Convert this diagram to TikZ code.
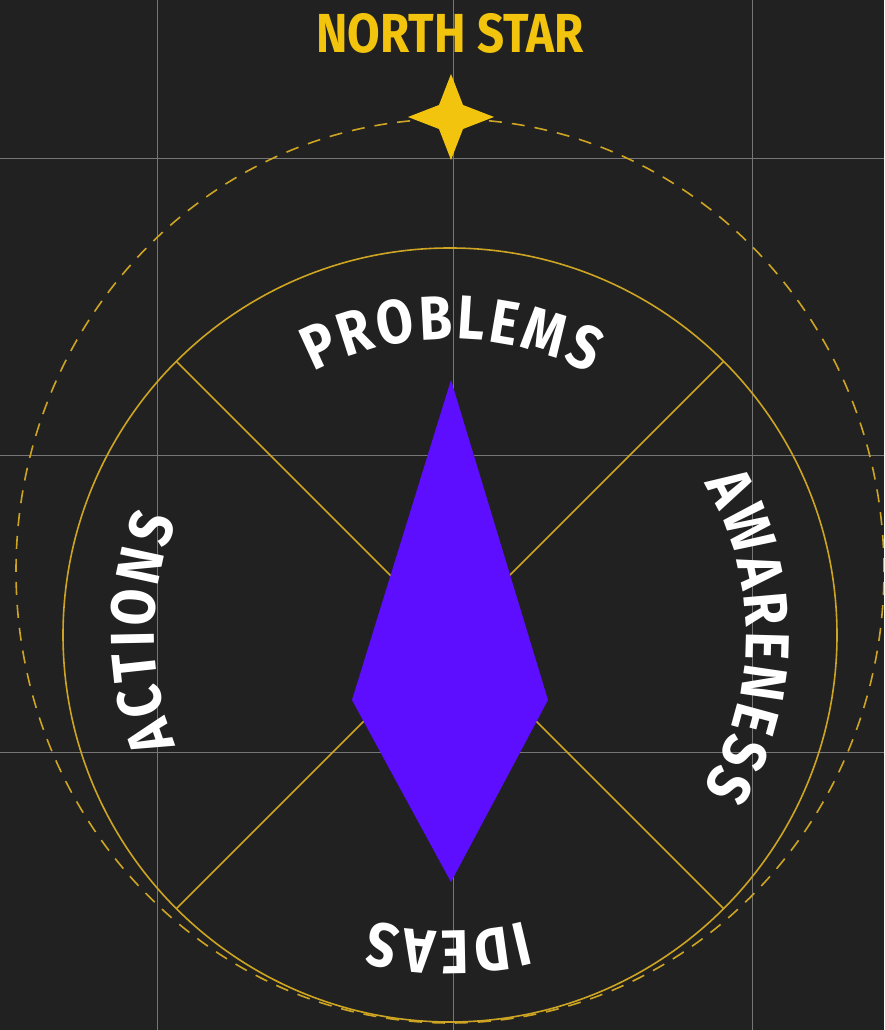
\documentclass[tikz,border=0pt]{standalone}
\usepackage{fontspec}
\usetikzlibrary{calc, decorations.text}
\newfontfamily\titlefont[FakeStretch=0.86]{Fira Sans}
\newfontfamily\ringfont[FakeStretch=0.86]{Fira Sans}
\definecolor{bgGray}{RGB}{33,33,33}
\definecolor{gridGray}{RGB}{118,118,118}
\definecolor{ringGold}{RGB}{205,165,35}
\definecolor{starGold}{RGB}{242,196,14}
\definecolor{needleViolet}{RGB}{94,14,255}

\begin{document}
\begin{tikzpicture}[x=1pt, y=1pt, gridline/.style={gridGray, line width=0.9pt}, ring/.style={ringGold, line width=1.6pt}, ringlabel/.style={decorate, decoration={text along path, text align=center, text color=white, text={|\ringfont\bfseries\fontsize{62}{62}\selectfont\kern3.5pt|#1}}}]
		% Background
		\fill[bgGray] (0,0) rectangle (884,1030);
		\useasboundingbox (0,0) rectangle (884,1030);
		\clip (0,0) rectangle (884,1030);
		% Grid
		\foreach \gx in {157,453,752} \draw[gridline] (\gx,0) -- (\gx,1030);
		\foreach \gy in {278,575,872} \draw[gridline] (0,\gy) -- (884,\gy);
		% Orbit (dashed)
		\draw[ring, dash pattern=on 13pt off 10pt] (450,459) ellipse [x radius=434pt, y radius=452pt];
		% Compass ring
		\coordinate (c) at (450,395);
		\coordinate (ne) at ($(c)+(45:387pt)$);
		\coordinate (nw) at ($(c)+(135:387pt)$);
		\coordinate (sw) at ($(c)+(225:387pt)$);
		\coordinate (se) at ($(c)+(315:387pt)$);
		\draw[ring] (c) circle [radius=387pt];
		\draw[ring] (ne) -- (sw);
		\draw[ring] (nw) -- (se);
		% Needle
		\coordinate (tip) at (451,650);
		\coordinate (tail) at (451,148);
		\fill[needleViolet] (tip) -- (548,330) -- (tail) -- (352,330) -- cycle;
		% North star
		\fill[starGold, shift={(451,913)}] (0,43) -- (12,12) -- (43,0) -- (12,-12) -- (0,-43) -- (-12,-12) -- (-43,0) -- (-12,12) -- cycle;
		\node[starGold, font=\titlefont\bfseries\fontsize{55}{55}\selectfont, anchor=base] (title) at (450,977) {NORTH STAR};
		% Ring labels
		\path[ringlabel=PROBLEMS] ($(c)+(150:296pt)$) arc[start angle=150, end angle=30, radius=296pt];
		\path[ringlabel=AWARENESS] ($(c)+(60:296pt)$) arc[start angle=60, end angle=-60, radius=296pt];
		\path[ringlabel=IDEAS] ($(c)+(-30:296pt)$) arc[start angle=-30, end angle=-150, radius=296pt];
		\path[ringlabel=ACTIONS] ($(c)+(240:296pt)$) arc[start angle=240, end angle=120, radius=296pt];
	\end{tikzpicture}
\end{document}
